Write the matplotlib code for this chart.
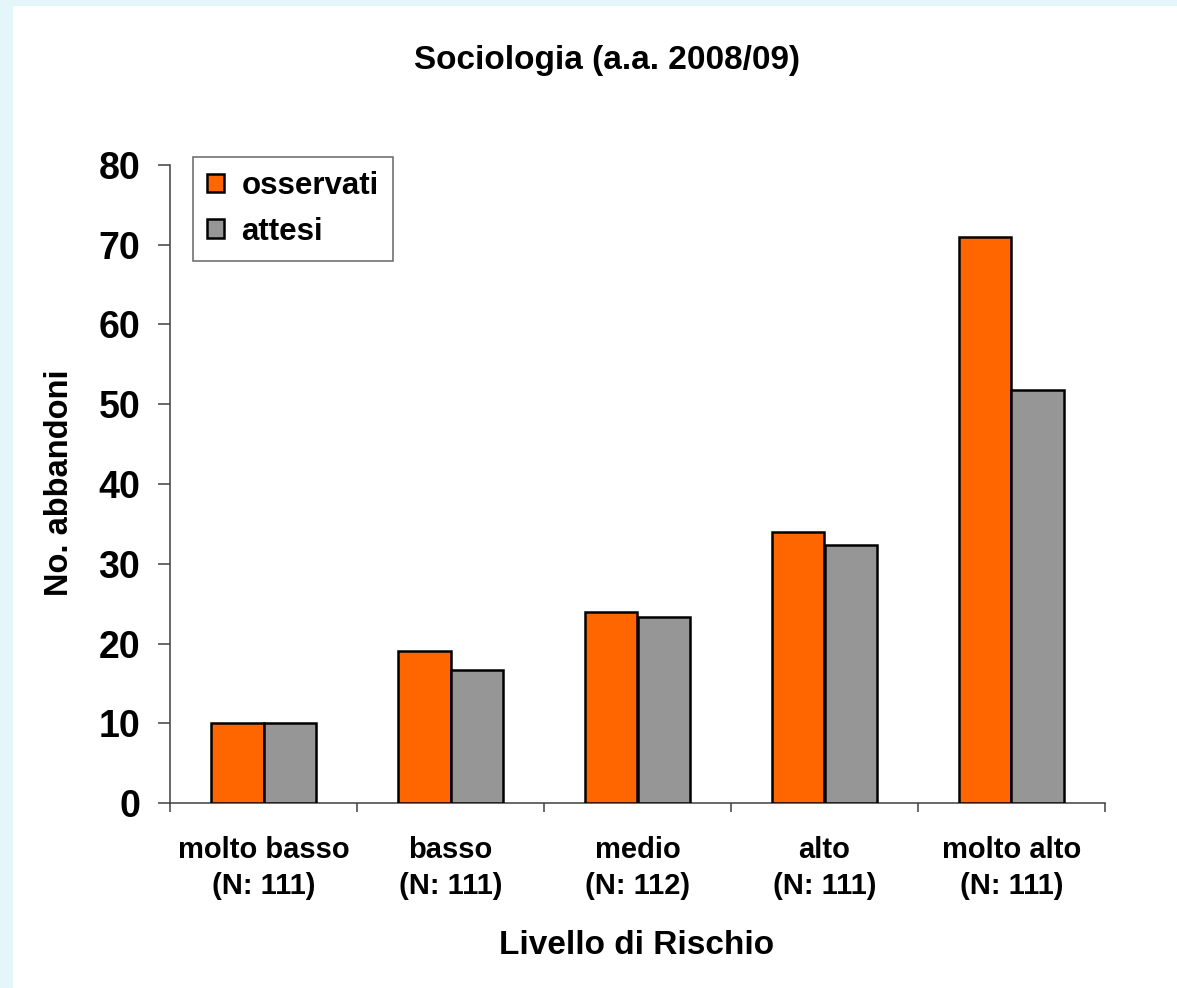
import numpy as np
import matplotlib
matplotlib.use("Agg")
from matplotlib import pyplot as plt
from matplotlib.patches import Rectangle

plt.rcParams['font.family'] = ['Liberation Sans', 'DejaVu Sans']
plt.rcParams['font.weight'] = 'bold'

categorie = ['molto basso\n(N: 111)', 'basso\n(N: 111)', 'medio\n(N: 112)',
             'alto\n(N: 111)', 'molto alto\n(N: 111)']
osservati = [10, 19, 24, 34, 71]
attesi = [10, 16.7, 23.3, 32.4, 51.8]

fig = plt.figure(figsize=(11.77, 9.88), dpi=100)
fig.patch.set_facecolor('#e4f6fa')
# riquadro bianco interno
fig.patches.append(Rectangle((13/1177, 0), 1 - 13/1177, 1 - 6/988,
                             transform=fig.transFigure, facecolor='white',
                             edgecolor='none', zorder=-5))

ax = fig.add_axes([170/1177, 1 - 803/988, 935/1177, 638/988])
ax.set_zorder(2)
ax.set_facecolor('white')

x = np.arange(len(categorie))
w = 0.283
ax.bar(x - w/2, osservati, w, color='#ff6600', edgecolor='black', linewidth=1.8,
       label='osservati', zorder=3)
ax.bar(x + w/2, attesi, w, color='#969696', edgecolor='black', linewidth=1.8,
       label='attesi', zorder=3)

ax.set_xlim(-0.5, len(categorie) - 0.5)
ax.set_ylim(0, 80)
ax.set_yticks(range(0, 81, 10))
ax.tick_params(axis='y', labelsize=27, length=8.5, width=1.1, color='#404040', pad=13)

ax.set_xticks(x)
ax.set_xticklabels(categorie, fontsize=21, linespacing=1.35)
ax.set_xticks(np.arange(-0.5, len(categorie)), minor=True)
ax.tick_params(axis='x', which='major', length=0, pad=24)
ax.tick_params(axis='x', which='minor', length=6.5, width=1.1, color='#404040')

for s in ['top', 'right']:
    ax.spines[s].set_visible(False)
for s in ['left', 'bottom']:
    ax.spines[s].set_color('#404040')
    ax.spines[s].set_linewidth(1.1)

fig.text(607/1177, 1 - 60/988, 'Sociologia (a.a. 2008/09)', ha='center', va='center',
         fontsize=24, fontweight='bold')
fig.text(637/1177, 1 - 945/988, 'Livello di Rischio', ha='center', va='center',
         fontsize=24, fontweight='bold')
fig.text(60/1177, 1 - 483/988, 'No. abbandoni', ha='center', va='center',
         rotation=90, fontsize=23.5, fontweight='bold')

leg = ax.legend(loc='upper left', bbox_to_anchor=(23/935, 1 + 8/638),
                fontsize=22.5, frameon=True, fancybox=False, handlelength=0.55,
                handleheight=0.55, handletextpad=0.55, borderpad=0.45,
                labelspacing=0.5, borderaxespad=0)
leg.get_frame().set_edgecolor('#404040')
leg.get_frame().set_linewidth(1.1)

fig.savefig('out.png', dpi=100, facecolor=fig.get_facecolor())
